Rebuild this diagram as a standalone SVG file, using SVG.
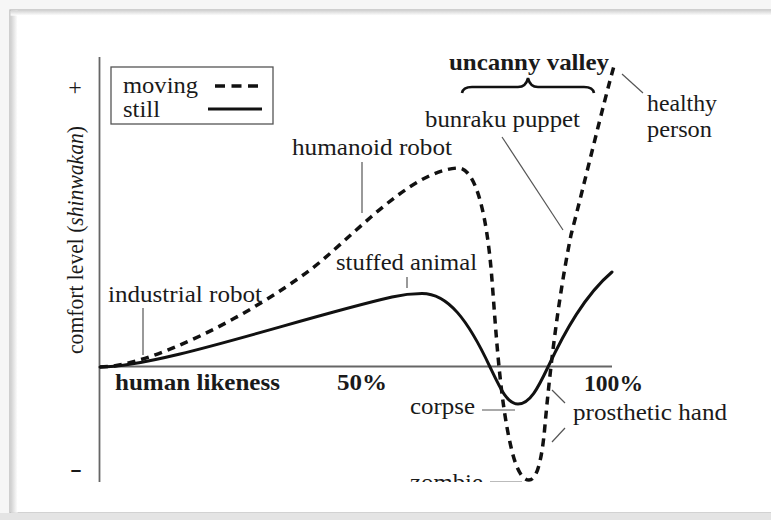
<svg xmlns="http://www.w3.org/2000/svg" width="771" height="520" viewBox="0 0 771 520">
<style>
.t{font-family:"Liberation Serif","Times New Roman",serif;font-size:24px;fill:#1a1a1a}
.b{font-weight:bold}
.lead{stroke:#555;stroke-width:1.2;fill:none}
.ax{stroke:#666;stroke-width:1.8;fill:none}
.still{stroke:#111;stroke-width:3;fill:none;stroke-linejoin:round;stroke-linecap:round}
.moving{stroke:#111;stroke-width:3.5;fill:none;stroke-dasharray:8 6;stroke-linejoin:round}
</style>
<defs>
<clipPath id="clipBottom"><rect x="0" y="0" width="771" height="482"/></clipPath>
<linearGradient id="shL" x1="0" x2="1" y1="0" y2="0"><stop offset="0" stop-color="#cfcfcf"/><stop offset="1" stop-color="#ffffff"/></linearGradient>
<linearGradient id="shT" x1="0" x2="0" y1="0" y2="1"><stop offset="0" stop-color="#d5d5d5"/><stop offset="1" stop-color="#ffffff"/></linearGradient>
</defs>
<g id="frame">
<rect x="0" y="0" width="771" height="520" fill="#f6f6f6"/>
<rect x="10" y="10" width="770" height="503" fill="#ffffff" stroke="#b5b5b5" stroke-width="1.2"/>
<rect x="10.6" y="10.6" width="7" height="502" fill="url(#shL)"/>
<rect x="10.6" y="10.6" width="770" height="5" fill="url(#shT)"/>
<rect x="0" y="513" width="771" height="7" fill="#e4e4e4"/>
</g>
<g id="axes">
<line class="ax" x1="99.5" y1="57" x2="99.5" y2="482"/>
<line class="ax" x1="99" y1="366.5" x2="612" y2="366.5"/>
<text class="t" x="75" y="95" font-size="30" text-anchor="middle">+</text>
<text class="t b" transform="translate(76,477) scale(1.5,1)" font-size="30" text-anchor="middle">-</text>
<text class="t" transform="translate(83,354) rotate(-90)" font-size="22" textLength="228" lengthAdjust="spacingAndGlyphs">comfort level (<tspan font-style="italic">shinwakan</tspan>)</text>
</g>
<g id="legend">
<rect x="111" y="67" width="162" height="57" fill="none" stroke="#555" stroke-width="1.3"/>
<text class="t" x="123" y="93" textLength="75" lengthAdjust="spacingAndGlyphs">moving</text>
<text class="t" x="123" y="117" textLength="37" lengthAdjust="spacingAndGlyphs">still</text>
<line x1="215" y1="86" x2="263" y2="86" stroke="#111" stroke-width="3.5" stroke-dasharray="10 6.5"/>
<line x1="208" y1="109" x2="262" y2="109" stroke="#111" stroke-width="3"/>
</g>
<g id="curves">
<path id="still-curve" class="still" d="M100,367 C160,367 300,318 392,297 C405,294 412,293.5 422,293.5 C448,293.5 468,320 490,367 C500,388 507,404 518,404 C530,404 538,388 548,367 C565,331 585,295 612,272"/>
<path id="moving-curve" class="moving" d="M100,367 C150,367 250,315 310,270 C350,240 410,170 458,168 C476,168 487,215 492,280 C496,332 500,400 511,447 C515,465 521,480 529,480 C537,480 542,460 545,425 C550,370 558,300 571,235 C584,185 603,105 614,66"/>
</g>
<g id="connectors">
<line class="lead" x1="143" y1="308" x2="143" y2="355"/>
<line class="lead" x1="362" y1="162" x2="362" y2="213"/>
<line class="lead" x1="407" y1="277" x2="407" y2="288"/>
<line class="lead" x1="502" y1="137" x2="563" y2="230"/>
<line class="lead" x1="622" y1="74" x2="643" y2="93"/>
<line class="lead" x1="482" y1="410" x2="515" y2="410"/>
<line class="lead" x1="565" y1="403" x2="552" y2="390"/>
<line class="lead" x1="565" y1="428" x2="552" y2="442"/>
<line x1="490" y1="481.5" x2="522" y2="481.5" stroke="#bbb" stroke-width="1"/>
</g>
<g id="brace">
<path d="M462,93 Q463,87 472,87 L518,87 Q526,87 528,78 Q530,87 538,87 L584,87 Q593,87 594,93" fill="none" stroke="#111" stroke-width="2.6"/>
<text class="t b" x="449" y="70" textLength="160" lengthAdjust="spacingAndGlyphs">uncanny valley</text>
</g>
<g id="label-healthy"><text class="t" x="647" y="111" textLength="70" lengthAdjust="spacingAndGlyphs">healthy</text><text class="t" x="647" y="137" textLength="65" lengthAdjust="spacingAndGlyphs">person</text></g>
<g id="label-bunraku"><text class="t" x="425" y="127" textLength="155" lengthAdjust="spacingAndGlyphs">bunraku puppet</text></g>
<g id="label-humanoid"><text class="t" x="292" y="155" textLength="160" lengthAdjust="spacingAndGlyphs">humanoid robot</text></g>
<g id="label-stuffed"><text class="t" x="336" y="270" textLength="141" lengthAdjust="spacingAndGlyphs">stuffed animal</text></g>
<g id="label-industrial"><text class="t" x="108" y="302" textLength="154" lengthAdjust="spacingAndGlyphs">industrial robot</text></g>
<g id="label-axis">
<text class="t b" x="115" y="390" textLength="165" lengthAdjust="spacingAndGlyphs">human likeness</text>
<text class="t b" x="337" y="390" textLength="50" lengthAdjust="spacingAndGlyphs">50%</text>
<text class="t b" x="584" y="391" textLength="59" lengthAdjust="spacingAndGlyphs">100%</text>
</g>
<g id="label-corpse"><text class="t" x="410" y="414" textLength="65" lengthAdjust="spacingAndGlyphs">corpse</text></g>
<g id="label-prosthetic"><text class="t" x="573" y="420" textLength="154" lengthAdjust="spacingAndGlyphs">prosthetic hand</text></g>
<g id="label-zombie" clip-path="url(#clipBottom)"><text class="t" x="410" y="490" textLength="73" lengthAdjust="spacingAndGlyphs">zombie</text></g>
</svg>
